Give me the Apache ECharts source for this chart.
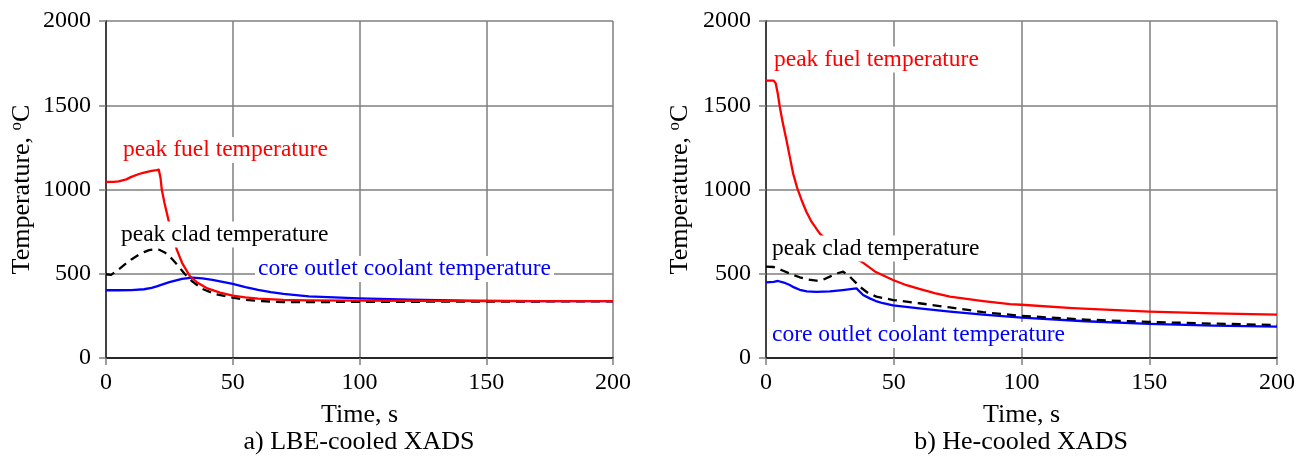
<!DOCTYPE html>
<html>
<head>
<meta charset="utf-8">
<script src="https://cdn.jsdelivr.net/npm/echarts@6/dist/echarts.min.js"></script>
<style>
  html, body { margin: 0; padding: 0; background: #fff; }
  #chart { width: 1305px; height: 457px; }
</style>
</head>
<body>
<div id="chart"></div>
<script>
// Time axis ticks (s) and temperature axis ticks (°C)
const timeTicks = [0, 50, 100, 150, 200];
const tempTicks = [0, 500, 1000, 1500, 2000];

// a) LBE-cooled XADS: [time s, temperature °C]
const lbeFuel = [[0,1045],[3,1045],[5,1048],[8,1060],[10,1075],[13,1092],[15,1100],[18,1110],[20,1115],[20.8,1118],[21.5,1070],[22,1000],[23,925],[24,860],[25,795],[26,740],[27,688],[28,640],[30,565],[33,488],[36,448],[40,413],[45,388],[50,370],[55,360],[60,352],[70,345],[80,342],[100,340],[150,338],[200,337]];
const lbeClad = [[0,497],[2,493],[5,525],[8,562],[10,585],[13,614],[15,628],[17,640],[19,645],[21,642],[23,628],[25,605],[28,555],[31,500],[34,455],[38,410],[43,380],[50,358],[55,346],[60,338],[70,332],[80,332],[100,333],[150,335],[200,336]];
const lbeOutlet = [[0,402],[5,402],[10,403],[15,408],[18,416],[20,425],[25,450],[30,470],[34,477],[38,473],[42,464],[45,455],[50,440],[55,421],[60,405],[65,391],[70,380],[80,366],[95,357],[100,354],[120,346],[142,340],[170,338],[200,337]];

// b) He-cooled XADS: [time s, temperature °C]
const heFuel = [[0,1646],[3,1646],[3.8,1630],[4.6,1570],[5.4,1491],[6.5,1400],[8,1294],[9.3,1195],[10.6,1096],[12.2,1010],[13.9,938],[15.8,868],[17.8,809],[21,740],[25,680],[30,630],[35,590],[37.4,572],[43,510],[49.7,463],[55,432],[60,410],[66,385],[72,364],[85,338],[95.5,320],[100,316],[120,296],[150,275],[175,265],[200,257]];
const heClad = [[0,542],[3,540],[6.7,518],[10,497],[13.2,479],[16,467],[19.7,459],[22,462],[25,483],[28,503],[30.2,512],[32.8,483],[36.7,423],[40,385],[43.2,364],[49.8,344],[60,325],[72,300],[85,272],[100,250],[125,228],[150,214],[175,204],[200,196]];
const heOutlet = [[0,449],[3,452],[4.7,457],[7,448],[9.3,433],[11,419],[13.2,405],[16,396],[19.7,392],[25,395],[30,403],[35.4,413],[38,374],[40.6,354],[43,338],[45.8,325],[49.7,312],[60,295],[72,275],[85,257],[100,240],[125,218],[150,202],[175,192],[200,186]];

const FONT = '"Liberation Serif", "Times New Roman", serif';
const GRID_COLOR = '#7f7f7f';

const grids = [
  { left: 106, top: 21, width: 507, height: 337 },
  { left: 766, top: 21, width: 511, height: 337 }
];

function xAxisFor(i) {
  return {
    gridIndex: i, type: 'value',
    min: timeTicks[0], max: timeTicks[timeTicks.length - 1],
    interval: timeTicks[1] - timeTicks[0],
    name: 'Time, s', nameLocation: 'middle', nameGap: 44,
    nameTextStyle: { fontFamily: FONT, fontSize: 26, color: '#000' },
    axisLine: { show: true, onZero: false, lineStyle: { color: '#000', width: 1.5 } },
    axisTick: { show: true, length: 7, lineStyle: { color: GRID_COLOR, width: 1.5 } },
    axisLabel: { fontFamily: FONT, fontSize: 24, color: '#000', margin: 13,
      formatter: v => String(v) },
    splitLine: { show: true, lineStyle: { color: GRID_COLOR, width: 1.5 } }
  };
}

function yAxisFor(i, gap) {
  return {
    gridIndex: i, type: 'value',
    min: tempTicks[0], max: tempTicks[tempTicks.length - 1],
    interval: tempTicks[1] - tempTicks[0],
    name: '{t|Temperature, }{s|o}{t|C}', nameLocation: 'middle', nameGap: gap,
    nameTextStyle: {
      fontFamily: FONT, fontSize: 26, color: '#000',
      rich: {
        t: { fontFamily: FONT, fontSize: 26, color: '#000' },
        s: { fontFamily: FONT, fontSize: 17, color: '#000', padding: [0, 0, 12, 0] }
      }
    },
    axisLine: { show: true, lineStyle: { color: '#222', width: 1.5 } },
    axisTick: { show: true, length: 7, lineStyle: { color: GRID_COLOR, width: 1.5 } },
    axisLabel: { fontFamily: FONT, fontSize: 24, color: '#000', margin: 15,
      formatter: v => String(v) },
    splitLine: { show: true, lineStyle: { color: GRID_COLOR, width: 1.5 } }
  };
}

function curve(i, data, color, dashed) {
  return {
    type: 'line', xAxisIndex: i, yAxisIndex: i, data: data,
    showSymbol: false, symbol: 'none', smooth: false, z: 3,
    lineStyle: { color: color, width: 2.3, type: dashed ? [9, 6] : 'solid', join: 'round' },
    animation: false
  };
}

function note(text, x, y, color) {
  return {
    type: 'text', z: 100,
    style: {
      x: x, y: y, text: text, fill: color,
      font: '23.5px ' + FONT, align: 'left', verticalAlign: 'middle',
      backgroundColor: '#fff', padding: [1, 3]
    }
  };
}

const option = {
  backgroundColor: '#fff',
  animation: false,
  title: [
    { text: 'a) LBE-cooled XADS', left: 359, top: 429, textAlign: 'center', padding: 0,
      textStyle: { fontFamily: FONT, fontSize: 26, fontWeight: 'normal', color: '#000' } },
    { text: 'b) He-cooled XADS', left: 1021, top: 429, textAlign: 'center', padding: 0,
      textStyle: { fontFamily: FONT, fontSize: 26, fontWeight: 'normal', color: '#000' } }
  ],
  grid: grids,
  xAxis: [xAxisFor(0), xAxisFor(1)],
  yAxis: [yAxisFor(0, 69), yAxisFor(1, 71)],
  series: [
    curve(0, lbeClad, '#000', true),
    curve(0, lbeOutlet, '#0000ff', false),
    curve(0, lbeFuel, '#ff0000', false),
    curve(1, heOutlet, '#0000ff', false),
    curve(1, heClad, '#000', true),
    curve(1, heFuel, '#ff0000', false)
  ],
  graphic: [
    note('peak fuel temperature', 120, 150, '#ff0000'),
    note('peak clad temperature', 118, 234.5, '#000'),
    note('core outlet coolant temperature', 255, 269, '#0000ff'),
    note('peak fuel temperature', 771, 59.5, '#ff0000'),
    note('peak clad temperature', 769, 248.5, '#000'),
    note('core outlet coolant temperature', 769, 335, '#0000ff')
  ]
};

const chart = echarts.init(document.getElementById('chart'), null, { renderer: 'canvas' });
chart.setOption(option);
</script>
</body>
</html>
